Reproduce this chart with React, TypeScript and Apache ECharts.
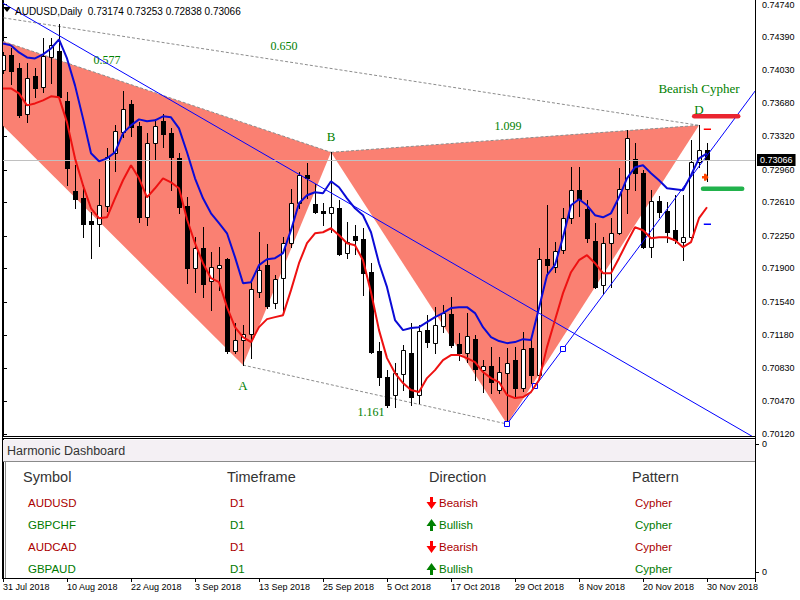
import React, { useEffect, useRef } from 'react';
import * as echarts from 'echarts';

const FONT = '"Liberation Sans", Arial, sans-serif';
const SERIF = '"Liberation Serif", "Times New Roman", serif';

// ---- Daily AUDUSD bars (31 Jul 2018 .. 30 Nov 2018) ----
const opens = [
  0.74031, 0.74192, 0.74052, 0.73558, 0.73966, 0.73848, 0.74171, 0.74235, 0.73698, 0.72731,
  0.72655, 0.72408, 0.72376, 0.72570, 0.73139, 0.73365, 0.73666, 0.73429, 0.72451, 0.73246,
  0.73483, 0.73354, 0.73085, 0.72570, 0.71903, 0.72118, 0.71764, 0.71903, 0.72000, 0.71011,
  0.71130, 0.71194, 0.71645, 0.71936, 0.71527, 0.71796, 0.72172, 0.72602, 0.72903, 0.72591,
  0.72516, 0.72494, 0.72548, 0.72065, 0.72247, 0.72215, 0.71860, 0.71011, 0.70732, 0.70539,
  0.70764, 0.70990, 0.70539, 0.71237, 0.71097, 0.71280, 0.71409, 0.71087, 0.70990, 0.71140,
  0.70807, 0.70850, 0.70592, 0.70775, 0.70915, 0.70614, 0.71044, 0.70754, 0.72000, 0.71914,
  0.72097, 0.72441, 0.72741, 0.72537, 0.72193, 0.71721, 0.72172, 0.72279, 0.72752, 0.73075,
  0.72924, 0.72129, 0.72623, 0.72516, 0.72312, 0.72183, 0.72236, 0.73042, 0.73174,
];
const highs = [
  0.74224, 0.74267, 0.74106, 0.74106, 0.74052, 0.74375, 0.74375, 0.74525, 0.73794, 0.73010,
  0.72795, 0.72505, 0.72860, 0.73193, 0.73440, 0.73805, 0.73709, 0.73472, 0.73354, 0.73504,
  0.73558, 0.73408, 0.73139, 0.72666, 0.72236, 0.72344, 0.72075, 0.72129, 0.72011, 0.71312,
  0.71291, 0.71753, 0.72290, 0.72161, 0.71828, 0.72236, 0.72752, 0.72935, 0.73032, 0.72806,
  0.72602, 0.73150, 0.72634, 0.72398, 0.72365, 0.72333, 0.71957, 0.71108, 0.70807, 0.70883,
  0.71076, 0.71312, 0.71291, 0.71398, 0.71484, 0.71506, 0.71592, 0.71205, 0.71420, 0.71183,
  0.70915, 0.71054, 0.70947, 0.71044, 0.71054, 0.71216, 0.71162, 0.72118, 0.72580, 0.72183,
  0.72548, 0.72989, 0.72989, 0.72634, 0.72387, 0.72236, 0.72441, 0.72978, 0.73386, 0.73246,
  0.72956, 0.72741, 0.72677, 0.72613, 0.72688, 0.72688, 0.73279, 0.73440, 0.73253,
];
const lows = [
  0.73999, 0.73880, 0.73526, 0.73472, 0.73741, 0.73794, 0.73891, 0.73709, 0.72795, 0.72548,
  0.72236, 0.72011, 0.72140, 0.72516, 0.72946, 0.73311, 0.73322, 0.72398, 0.72365, 0.73075,
  0.73204, 0.72741, 0.72494, 0.71742, 0.71645, 0.71592, 0.71452, 0.71667, 0.70990, 0.70990,
  0.70861, 0.70936, 0.71592, 0.71474, 0.71474, 0.71431, 0.72129, 0.72548, 0.72655, 0.72494,
  0.72365, 0.72290, 0.72043, 0.72011, 0.72054, 0.71613, 0.70990, 0.70646, 0.70410, 0.70410,
  0.70592, 0.70431, 0.70453, 0.71054, 0.70990, 0.71216, 0.71054, 0.70915, 0.70893, 0.70700,
  0.70571, 0.70560, 0.70560, 0.70227, 0.70517, 0.70582, 0.70668, 0.70721, 0.71828, 0.71860,
  0.72065, 0.72387, 0.72462, 0.72183, 0.71690, 0.71635, 0.71699, 0.72270, 0.72494, 0.72741,
  0.72118, 0.72022, 0.72451, 0.72183, 0.72172, 0.71989, 0.72204, 0.72989, 0.72838,
];
const closes = [
  0.74192, 0.74020, 0.73547, 0.73945, 0.73837, 0.74181, 0.74300, 0.73741, 0.72978, 0.72645,
  0.72376, 0.72376, 0.72580, 0.73096, 0.73375, 0.73612, 0.73418, 0.72451, 0.73246, 0.73429,
  0.73343, 0.73096, 0.72559, 0.71903, 0.72118, 0.71731, 0.71914, 0.71936, 0.71011, 0.71130,
  0.71194, 0.71678, 0.71882, 0.71495, 0.71785, 0.72172, 0.72602, 0.72903, 0.72870, 0.72505,
  0.72494, 0.72559, 0.72054, 0.72183, 0.72204, 0.71850, 0.71001, 0.70732, 0.70431, 0.70775,
  0.71022, 0.70517, 0.71226, 0.71108, 0.71291, 0.71420, 0.71076, 0.70990, 0.71173, 0.70818,
  0.70850, 0.70678, 0.70786, 0.70883, 0.70614, 0.71033, 0.70754, 0.72000, 0.71936, 0.72086,
  0.72441, 0.72741, 0.72645, 0.72226, 0.71699, 0.72172, 0.72279, 0.72752, 0.73300, 0.72924,
  0.72129, 0.72623, 0.72505, 0.72290, 0.72204, 0.72236, 0.73042, 0.73174, 0.73066,
];
// blue and red moving averages
const blueMA = [
  0.74321, 0.74300, 0.74224, 0.74171, 0.74160, 0.74203, 0.74267, 0.74364, 0.74160, 0.73870,
  0.73515, 0.73139, 0.73053, 0.73085, 0.73150, 0.73354, 0.73440, 0.73504, 0.73483, 0.73494,
  0.73537, 0.73526, 0.73408, 0.73150, 0.72870, 0.72655, 0.72494, 0.72387, 0.72279, 0.72022,
  0.71742, 0.71753, 0.71936, 0.72000, 0.72011, 0.72065, 0.72312, 0.72602, 0.72688, 0.72720,
  0.72709, 0.72838, 0.72774, 0.72655, 0.72548, 0.72473, 0.72290, 0.71957, 0.71699, 0.71345,
  0.71237, 0.71259, 0.71269, 0.71323, 0.71377, 0.71420, 0.71474, 0.71484, 0.71484, 0.71420,
  0.71269, 0.71162, 0.71119, 0.71097, 0.71108, 0.71140, 0.71130, 0.71474, 0.71828, 0.71940,
  0.72236, 0.72580, 0.72645, 0.72580, 0.72473, 0.72451, 0.72494, 0.72666, 0.72870, 0.72989,
  0.73010, 0.72924, 0.72849, 0.72763, 0.72752, 0.72741, 0.72903, 0.73085, 0.73139,
];
const redMA = [
  0.73837, 0.73837, 0.73784, 0.73655, 0.73676, 0.73709, 0.73752, 0.73741, 0.73472, 0.73085,
  0.72795, 0.72548, 0.72441, 0.72451, 0.72655, 0.72849, 0.73010, 0.72870, 0.72666, 0.72763,
  0.72870, 0.72827, 0.72763, 0.72430, 0.72172, 0.71957, 0.71796, 0.71753, 0.71484, 0.71269,
  0.71162, 0.71108, 0.71269, 0.71355, 0.71377, 0.71398, 0.71667, 0.71957, 0.72172, 0.72279,
  0.72290, 0.72333, 0.72258, 0.72172, 0.72150, 0.71989, 0.71645, 0.71237, 0.70936, 0.70775,
  0.70668, 0.70592, 0.70571, 0.70721, 0.70807, 0.70915, 0.70969, 0.70969, 0.70936, 0.70893,
  0.70786, 0.70721, 0.70678, 0.70539, 0.70506, 0.70517, 0.70571, 0.70700, 0.71054, 0.71345,
  0.71635, 0.71860, 0.71989, 0.72043, 0.71957, 0.71850, 0.71850, 0.72011, 0.72183, 0.72344,
  0.72312, 0.72226, 0.72236, 0.72236, 0.72204, 0.72129, 0.72183, 0.72441, 0.72559,
];

const dateLabels = [
  '31 Jul 2018', '10 Aug 2018', '22 Aug 2018', '3 Sep 2018', '13 Sep 2018', '25 Sep 2018',
  '5 Oct 2018', '17 Oct 2018', '29 Oct 2018', '8 Nov 2018', '20 Nov 2018', '30 Nov 2018',
];
const priceTicks = [
  0.7474, 0.7439, 0.7403, 0.7368, 0.7332, 0.7296, 0.7261, 0.7225, 0.719, 0.7154, 0.7118,
  0.7083, 0.7047, 0.7012,
];

// ---- Harmonic pattern X A B C D ----
const patternBars = [-16, 30, 41, 63, 87];
const patternPrices = [0.7481, 0.70861, 0.7315, 0.70227, 0.7344];
const ratioLabels = ['0.577', '0.650', '1.099', '1.161'];
const patternTitle = 'Bearish Cypher';

// trend lines
const trend1Bars = [0, 95];
const trend1Prices = [0.74754, 0.70027];
const trend2Bars = [63, 95];
const trend2Prices = [0.70227, 0.73923];
const touchBars = [63, 66.5, 70];
const touchPrices = [0.70227, 0.70631, 0.71036];

// levels near D
const stopBars = [86.4, 91.9];
const stopPrice = 0.73537;
const targetBars = [87.5, 92.4];
const targetPrice = 0.72758;
const dashBars = [87.6, 88.5];
const redDashPrice = 0.73397;
const blueDashPrice = 0.72376;
const entryBar = 87.75;
const entryPrice = 0.72881;

// dashboard
const dashSymbols = ['AUDUSD', 'GBPCHF', 'AUDCAD', 'GBPAUD'];
const dashTimeframes = ['D1', 'D1', 'D1', 'D1'];
const dashDirections = ['Bearish', 'Bullish', 'Bearish', 'Bullish'];
const dashPatterns = ['Cypher', 'Cypher', 'Cypher', 'Cypher'];
const dashHeaders = ['Symbol', 'Timeframe', 'Direction', 'Pattern'];

const Y_MIN = 0.70098;
const Y_MAX = 0.74783;

function buildOption() {
  const n = closes.length;
  const last = closes[n - 1];
  const candleData = closes.map((c, i) => [i, opens[i], c, lows[i], highs[i]]);

  const candleRender = (params: any, api: any) => {
    const i = api.value(0);
    const o = api.value(1);
    const c = api.value(2);
    const l = api.value(3);
    const h = api.value(4);
    const pO = api.coord([i, o]);
    const pC = api.coord([i, c]);
    const pL = api.coord([i, l]);
    const pH = api.coord([i, h]);
    const cx = Math.round(pO[0]);
    const top = Math.round(Math.min(pO[1], pC[1]));
    const bot = Math.round(Math.max(pO[1], pC[1]));
    const children: any[] = [
      {
        type: 'line',
        shape: { x1: cx + 0.5, y1: Math.round(pH[1]), x2: cx + 0.5, y2: Math.round(pL[1]) + 1 },
        style: { stroke: '#000', lineWidth: 1 },
      },
    ];
    if (c > o) {
      children.push({
        type: 'rect',
        shape: { x: cx - 1.5, y: top + 0.5, width: 4, height: Math.max(bot - top, 1) },
        style: { fill: '#fff', stroke: '#000', lineWidth: 1 },
      });
    } else {
      children.push({
        type: 'rect',
        shape: { x: cx - 2, y: top, width: 5, height: Math.max(bot - top + 1, 1) },
        style: { fill: '#000' },
      });
    }
    return { type: 'group', children };
  };

  const patternRender = (params: any, api: any) => {
    const P = patternBars.map((b, k) => api.coord([b, patternPrices[k]]));
    const [X, A, B, C, D] = P;
    const salmon = '#fa8072';
    const dashStyle = { stroke: '#8c8c8c', lineWidth: 1, lineDash: [3, 2] };
    const line = (p: number[], q: number[]) => ({
      type: 'line',
      shape: { x1: p[0], y1: p[1], x2: q[0], y2: q[1] },
      style: dashStyle,
    });
    const txt = (text: string, x: number, y: number, size: number) => ({
      type: 'text',
      x,
      y,
      style: {
        text,
        fill: '#008000',
        font: `${size}px ${SERIF}`,
        align: 'center',
        verticalAlign: 'middle',
      },
    });
    const mid = (p: number[], q: number[]) => [(p[0] + q[0]) / 2, (p[1] + q[1]) / 2];
    const mXB = mid(X, B);
    const mXD = mid(X, D);
    const mBD = mid(B, D);
    const mAC = mid(A, C);
    return {
      type: 'group',
      children: [
        { type: 'polygon', shape: { points: [X, A, B] }, style: { fill: salmon } },
        { type: 'polygon', shape: { points: [B, C, D] }, style: { fill: salmon } },
        line(X, B),
        line(X, D),
        line(B, D),
        line(A, C),
        txt(ratioLabels[0], mXB[0] + 4, mXB[1] - 15, 12),
        txt(ratioLabels[1], mXD[0] - 3, mXD[1] - 16, 12),
        txt(ratioLabels[2], mBD[0] - 7, mBD[1] - 13, 12),
        txt(ratioLabels[3], mAC[0] - 4, mAC[1] + 17, 12),
        txt('A', A[0], A[1] + 20, 13),
        txt('B', B[0], B[1] - 16, 13),
        txt('D', D[0], D[1] - 16, 13),
        txt(patternTitle, D[0], D[1] - 37, 13),
      ],
    };
  };

  const trendRender = (params: any, api: any) => {
    const a1 = api.coord([trend1Bars[0], trend1Prices[0]]);
    const b1 = api.coord([trend1Bars[1], trend1Prices[1]]);
    const a2 = api.coord([trend2Bars[0], trend2Prices[0]]);
    const b2 = api.coord([trend2Bars[1], trend2Prices[1]]);
    const children: any[] = [
      { type: 'line', shape: { x1: a1[0], y1: a1[1], x2: b1[0], y2: b1[1] }, style: { stroke: '#0000ff', lineWidth: 1 } },
      { type: 'line', shape: { x1: a2[0], y1: a2[1], x2: b2[0], y2: b2[1] }, style: { stroke: '#0000ff', lineWidth: 1 } },
    ];
    touchBars.forEach((b, k) => {
      const p = api.coord([b, touchPrices[k]]);
      children.push({
        type: 'rect',
        shape: { x: Math.round(p[0]) - 2.5, y: Math.round(p[1]) - 2.5, width: 5, height: 5 },
        style: { fill: '#fff', stroke: '#0000ff', lineWidth: 1 },
      });
    });
    return { type: 'group', children };
  };

  const levelRender = (params: any, api: any) => {
    const hl = (b0: number, b1: number, price: number, color: string, w: number, cap: string) => {
      const p = api.coord([b0, price]);
      const q = api.coord([b1, price]);
      return {
        type: 'line',
        shape: { x1: p[0], y1: p[1], x2: q[0], y2: q[1] },
        style: { stroke: color, lineWidth: w, lineCap: cap },
      };
    };
    const e = api.coord([entryBar, entryPrice]);
    const ex = e[0];
    const ey = e[1];
    return {
      type: 'group',
      children: [
        hl(stopBars[0], stopBars[1], stopPrice, '#ea2530', 4.5, 'round'),
        hl(targetBars[0], targetBars[1], targetPrice, '#22b24c', 4.5, 'round'),
        hl(dashBars[0], dashBars[1], redDashPrice, '#ff0000', 1.5, 'butt'),
        hl(dashBars[0], dashBars[1], blueDashPrice, '#0000ff', 1.5, 'butt'),
        {
          type: 'polygon',
          shape: {
            points: [
              [ex - 3, ey - 1.2], [ex - 1, ey - 1.2], [ex - 1, ey - 3.5], [ex + 1, ey - 3.5],
              [ex + 3.5, ey], [ex + 1, ey + 3.5], [ex - 1, ey + 3.5], [ex - 1, ey + 1.2], [ex - 3, ey + 1.2],
            ],
          },
          style: { fill: '#ff4500' },
        },
      ],
    };
  };

  const headerText = `AUDUSD,Daily  ${opens[n - 1].toFixed(5)} ${highs[n - 1].toFixed(5)} ${lows[n - 1].toFixed(5)} ${last.toFixed(5)}`;

  const graphics: any[] = [
    { type: 'line', z: 100, shape: { x1: 2.5, y1: 0, x2: 2.5, y2: 579 }, style: { stroke: '#000', lineWidth: 1 } },
    { type: 'line', z: 100, shape: { x1: 755.5, y1: 0, x2: 755.5, y2: 579 }, style: { stroke: '#000', lineWidth: 1 } },
    { type: 'line', z: 100, shape: { x1: 2, y1: 436.5, x2: 756, y2: 436.5 }, style: { stroke: '#000', lineWidth: 1 } },
    { type: 'line', z: 100, shape: { x1: 2, y1: 438.5, x2: 756, y2: 438.5 }, style: { stroke: '#000', lineWidth: 1 } },
    { type: 'polygon', z: 100, shape: { points: [[3, 7], [11, 7], [7, 12]] }, style: { fill: '#000' } },
    {
      type: 'text', z: 100, x: 15, y: 11,
      style: { text: headerText, font: `10px ${FONT}`, fill: '#000', verticalAlign: 'middle' },
    },
    // dashboard
    { type: 'rect', z: 90, shape: { x: 3, y: 440, width: 752, height: 21 }, style: { fill: '#f4f0f4' } },
    { type: 'line', z: 91, shape: { x1: 3, y1: 461.5, x2: 755, y2: 461.5 }, style: { stroke: '#8a8a8a', lineWidth: 1 } },
    { type: 'line', z: 91, shape: { x1: 5.5, y1: 461, x2: 5.5, y2: 578 }, style: { stroke: '#8a8a8a', lineWidth: 1 } },
    {
      type: 'text', z: 92, x: 7, y: 451,
      style: { text: 'Harmonic Dashboard', font: `12.5px ${FONT}`, fill: '#333', verticalAlign: 'middle' },
    },
    // sub-window scale
    { type: 'text', z: 92, x: 762, y: 444, style: { text: '0', font: `9px ${FONT}`, fill: '#000', verticalAlign: 'middle' } },
    { type: 'text', z: 92, x: 762, y: 572, style: { text: '0', font: `9px ${FONT}`, fill: '#000', verticalAlign: 'middle' } },
    { type: 'line', z: 92, shape: { x1: 755, y1: 444.5, x2: 759, y2: 444.5 }, style: { stroke: '#000', lineWidth: 1 } },
    { type: 'line', z: 92, shape: { x1: 755, y1: 572.5, x2: 759, y2: 572.5 }, style: { stroke: '#000', lineWidth: 1 } },
  ];
  const colX = [23, 227, 429, 632];
  dashHeaders.forEach((h, k) => {
    graphics.push({
      type: 'text', z: 92, x: colX[k], y: 477,
      style: { text: h, font: `14.5px ${FONT}`, fill: '#333', verticalAlign: 'middle' },
    });
  });
  dashSymbols.forEach((s, r) => {
    const y = 503 + 22 * r;
    const bear = dashDirections[r] === 'Bearish';
    const col = bear ? '#aa0000' : '#007a00';
    const f = `11.5px ${FONT}`;
    graphics.push({ type: 'text', z: 92, x: 28, y, style: { text: s, font: f, fill: col, verticalAlign: 'middle' } });
    graphics.push({ type: 'text', z: 92, x: 230, y, style: { text: dashTimeframes[r], font: f, fill: col, verticalAlign: 'middle' } });
    graphics.push({ type: 'text', z: 92, x: 439, y, style: { text: dashDirections[r], font: f, fill: col, verticalAlign: 'middle' } });
    graphics.push({ type: 'text', z: 92, x: 635, y, style: { text: dashPatterns[r], font: f, fill: col, verticalAlign: 'middle' } });
    const ax = 431.5;
    const pts = bear
      ? [[ax - 1.5, y - 6], [ax + 1.5, y - 6], [ax + 1.5, y - 1], [ax + 5, y - 1], [ax, y + 6], [ax - 5, y - 1], [ax - 1.5, y - 1]]
      : [[ax - 1.5, y + 6], [ax + 1.5, y + 6], [ax + 1.5, y + 1], [ax + 5, y + 1], [ax, y - 6], [ax - 5, y + 1], [ax - 1.5, y + 1]];
    graphics.push({
      type: 'polygon', z: 92, shape: { points: pts },
      style: { fill: bear ? '#ff0000' : '#008000' },
    });
  });

  return {
    animation: false,
    backgroundColor: '#fff',
    grid: [
      { left: 3, right: 45, top: 0, height: 436 },
      { left: 3, right: 45, top: 439, height: 139 },
    ],
    xAxis: [
      { type: 'value', gridIndex: 0, min: 0, max: 94, show: false },
      {
        type: 'value', gridIndex: 1, min: 0, max: 94, interval: 8,
        axisLine: { show: true, lineStyle: { color: '#000', width: 1 } },
        axisTick: { show: true, length: 4, lineStyle: { color: '#000' } },
        axisLabel: {
          show: true, align: 'left', margin: 4, fontSize: 9, fontFamily: FONT, color: '#000',
          formatter: (v: number) => (v % 8 === 0 && dateLabels[v / 8]) ? dateLabels[v / 8] : '',
        },
        splitLine: { show: false },
      },
    ],
    yAxis: [
      {
        type: 'value', gridIndex: 0, position: 'right', min: Y_MIN, max: Y_MAX,
        axisLine: { show: true, lineStyle: { color: '#000', width: 1 } },
        axisTick: { show: true, length: 4, lineStyle: { color: '#000' }, customValues: priceTicks },
        axisLabel: {
          show: true, customValues: priceTicks, margin: 7, fontSize: 9, fontFamily: FONT, color: '#000',
          formatter: (v: number) => v.toFixed(5),
        },
        splitLine: { show: false },
      },
      {
        type: 'value', gridIndex: 1, position: 'right', min: 0, max: 1,
        axisLine: { show: true, lineStyle: { color: '#000' } },
        axisTick: { show: false }, axisLabel: { show: false }, splitLine: { show: false },
      },
    ],
    graphic: graphics,
    series: [
      {
        type: 'custom', name: 'pattern', xAxisIndex: 0, yAxisIndex: 0, z: 1, clip: true,
        renderItem: patternRender, data: [[0, last]], encode: { x: 0, y: 1 }, silent: true,
      },
      {
        type: 'line', name: 'price', xAxisIndex: 0, yAxisIndex: 0, z: 2,
        data: [[n - 1, last]], symbol: 'none', showSymbol: false, lineStyle: { opacity: 0 }, silent: true,
        markLine: {
          silent: true, symbol: ['none', 'none'], precision: 5,
          data: [{ yAxis: last }],
          lineStyle: { color: '#c0c0c0', width: 1, type: 'solid' },
          label: {
            show: true, position: 'end', formatter: () => last.toFixed(5), color: '#fff',
            backgroundColor: '#000', padding: [2, 3, 1, 3], fontSize: 9, fontFamily: FONT, distance: 2,
          },
        },
      },
      {
        type: 'custom', name: 'candles', xAxisIndex: 0, yAxisIndex: 0, z: 3, clip: true,
        renderItem: candleRender, data: candleData, encode: { x: 0, y: [1, 2, 3, 4] }, silent: true,
      },
      {
        type: 'custom', name: 'trend', xAxisIndex: 0, yAxisIndex: 0, z: 4, clip: true,
        renderItem: trendRender, data: [[0, last]], encode: { x: 0, y: 1 }, silent: true,
      },
      {
        type: 'line', name: 'red', xAxisIndex: 0, yAxisIndex: 0, z: 5,
        data: redMA.map((v, i) => [i, v]), showSymbol: false, symbol: 'none',
        lineStyle: { color: '#ee1111', width: 2 }, silent: true,
      },
      {
        type: 'line', name: 'blue', xAxisIndex: 0, yAxisIndex: 0, z: 5,
        data: blueMA.map((v, i) => [i, v]), showSymbol: false, symbol: 'none',
        lineStyle: { color: '#0b0bd6', width: 2 }, silent: true,
      },
      {
        type: 'custom', name: 'levels', xAxisIndex: 0, yAxisIndex: 0, z: 6, clip: true,
        renderItem: levelRender, data: [[0, last]], encode: { x: 0, y: 1 }, silent: true,
      },
    ],
  };
}

export default function App() {
  const ref = useRef<HTMLDivElement>(null);
  useEffect(() => {
    if (!ref.current) return;
    const chart = echarts.init(ref.current, null, { renderer: 'svg' });
    chart.setOption(buildOption() as any);
    return () => chart.dispose();
  }, []);
  return (
    <div
      ref={ref}
      style={{ position: 'fixed', left: 0, top: 0, width: 800, height: 600, background: '#fff' }}
    />
  );
}
